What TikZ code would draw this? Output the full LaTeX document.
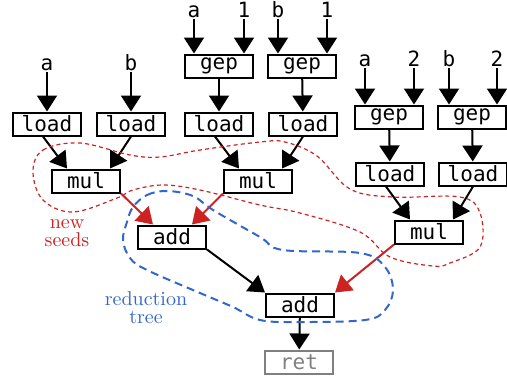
\documentclass[tikz,border=0pt]{standalone}
\usepackage{fontspec}
\setmonofont{DejaVu Sans Mono}
\usetikzlibrary{arrows.meta}

\definecolor{seedred}{RGB}{204,34,34}
\definecolor{treeblue}{RGB}{51,102,204}
\definecolor{retgray}{RGB}{128,128,128}

\begin{document}
\begin{tikzpicture}[x=0.5pt, y=-0.5pt,
    op/.style={draw, line width=1pt, minimum width=34pt, minimum height=11.5pt, inner sep=0pt, font=\ttfamily\fontsize{10.5}{12}\selectfont},
    inp/.style={inner sep=1pt, text height=7pt, text depth=0pt, font=\ttfamily\fontsize{10.5}{12}\selectfont},
    arr/.style={-{Triangle[length=8pt,width=10pt]}, line width=1pt},
    seedarr/.style={arr, draw=seedred, fill=seedred}]
            \useasboundingbox (0,0) rectangle (507,377);

            % operations
            \node[op] (l1) at (47,124) {load};
            \node[op] (l2) at (131,124) {load};
            \node[op] (g1) at (219,66) {gep};
            \node[op] (l3) at (219,124) {load};
            \node[op] (g2) at (302,66) {gep};
            \node[op] (l4) at (303,124) {load};
            \node[op] (g3) at (389,117) {gep};
            \node[op] (g4) at (472,117) {gep};
            \node[op] (l5) at (390,174) {load};
            \node[op] (l6) at (473,174) {load};
            \node[op] (m1) at (86,181) {mul};
            \node[op] (m2) at (258,181) {mul};
            \node[op] (m3) at (429,232) {mul};
            \node[op] (a1) at (172,237) {add};
            \node[op] (a2) at (300,305) {add};
            \node[op, draw=retgray, text=retgray] (r) at (299,362) {ret};

            % inputs
            \node[inp] (l1i) at (47,63) {a};
            \node[inp] (l2i) at (131,63) {b};
            \node[inp] (g1a) at (194,10) {a};
            \node[inp] (g1b) at (244,10) {1};
            \node[inp] (g2a) at (278,10) {b};
            \node[inp] (g2b) at (327,10) {1};
            \node[inp] (g3a) at (365,59) {a};
            \node[inp] (g3b) at (414,59) {2};
            \node[inp] (g4a) at (449,59) {b};
            \node[inp] (g4b) at (497,59) {2};

            % Draw edges
            \draw[arr] (l1i) -- (l1);
            \draw[arr] (l2i) -- (l2);
            \draw[arr] (g1a) -- (g1a |- g1.north);
            \draw[arr] (g1b) -- (g1b |- g1.north);
            \draw[arr] (g2a) -- (g2a |- g2.north);
            \draw[arr] (g2b) -- (g2b |- g2.north);
            \draw[arr] (g3a) -- (g3a |- g3.north);
            \draw[arr] (g3b) -- (g3b |- g3.north);
            \draw[arr] (g4a) -- (g4a |- g4.north);
            \draw[arr] (g4b) -- (g4b |- g4.north);
            \draw[arr] (g1) -- (l3);
            \draw[arr] (g2) -- (l4);
            \draw[arr] (g3) -- (l5);
            \draw[arr] (g4) -- (l6);
            \draw[arr] ([xshift=-2pt]l1.south) -- ([xshift=-9.5pt]m1.north);
            \draw[arr] (l2.south) -- ([xshift=12pt]m1.north);
            \draw[arr] ([xshift=-2pt]l3.south) -- ([xshift=-9.5pt]m2.north);
            \draw[arr] (l4.south) -- ([xshift=12pt]m2.north);
            \draw[arr] ([xshift=-2pt]l5.south) -- ([xshift=-9.5pt]m3.north);
            \draw[arr] (l6.south) -- ([xshift=12pt]m3.north);
            \draw[seedarr] (m1.south east) -- ([xshift=-9.5pt]a1.north);
            \draw[seedarr] (m2.south west) -- ([xshift=10pt]a1.north);
            \draw[seedarr] (m3.south west) -- (a2.north east);
            \draw[arr] (a1.south east) -- (a2.north west);
            \draw[arr] (a2) -- (r);

            % groups
            \draw[seedred, line width=0.6pt, dash pattern=on 2pt off 1.6pt] plot[smooth cycle, tension=0.6] coordinates {
                (33,172) (43,150) (80,143) (130,155) (160,157) (200,150) (260,142) (285,142) (317,156)
                (350,189) (393,197) (460,197) (480,213) (480,247) (450,263) (433,266) (390,257)
                (360,232) (300,213) (260,205) (200,190) (163,185) (133,190) (117,198) (73,212) (43,200)};
            \draw[treeblue, line width=1pt, dash pattern=on 4pt off 2.5pt] plot[smooth cycle, tension=0.6] coordinates {
                (133,207) (147,195) (167,191) (193,196) (213,210) (260,237) (283,250) (360,253) (385,267)
                (393,290) (385,310) (365,320) (300,322) (260,320) (233,307) (200,293) (147,270) (130,258)
                (123,240) (127,222)};

            \node[seedred, align=center, inner sep=0pt, font=\fontsize{10}{9}\selectfont] (ns) at (67,233) {new\\seeds};
            \node[treeblue, align=center, inner sep=0pt, font=\fontsize{10}{9}\selectfont] (rt) at (146,308) {reduction\\tree};
        \end{tikzpicture}
\end{document}
